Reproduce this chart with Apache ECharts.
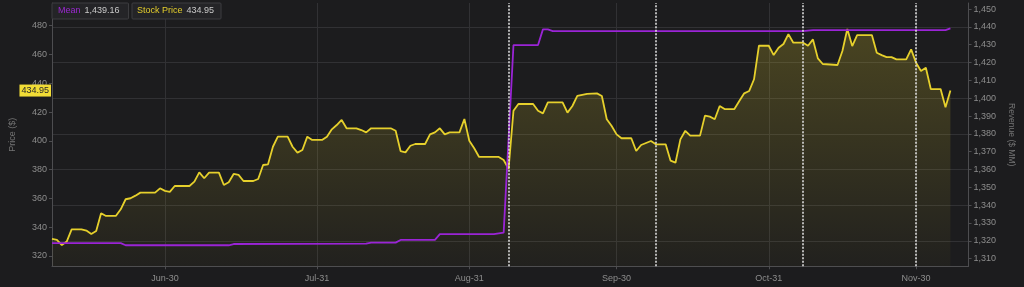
<!DOCTYPE html>
<html><head><meta charset="utf-8">
<script src="https://cdn.jsdelivr.net/npm/echarts@6/dist/echarts.min.js"></script>
<style>html,body{margin:0;padding:0;background:#1c1c1e}#c{width:1024px;height:287px}</style>
</head><body><div id="c"></div><script>
const priceDates = ['2023-06-07','2023-06-08','2023-06-09','2023-06-10','2023-06-11','2023-06-13','2023-06-14','2023-06-15','2023-06-16','2023-06-17','2023-06-18','2023-06-20','2023-06-21','2023-06-22','2023-06-23','2023-06-24','2023-06-25','2023-06-28','2023-06-29','2023-06-30',
'2023-07-01','2023-07-02','2023-07-05','2023-07-06','2023-07-07','2023-07-08','2023-07-09','2023-07-11','2023-07-12','2023-07-13','2023-07-14','2023-07-15','2023-07-16','2023-07-18','2023-07-19','2023-07-20','2023-07-21','2023-07-22','2023-07-23','2023-07-25','2023-07-26','2023-07-27','2023-07-28','2023-07-29','2023-07-30',
'2023-08-01','2023-08-02','2023-08-03','2023-08-04','2023-08-05','2023-08-06','2023-08-08','2023-08-09','2023-08-10','2023-08-11','2023-08-15','2023-08-16','2023-08-17','2023-08-18','2023-08-19','2023-08-20','2023-08-22','2023-08-23','2023-08-24','2023-08-25','2023-08-26','2023-08-27','2023-08-29','2023-08-30','2023-08-31',
'2023-09-01','2023-09-02','2023-09-06','2023-09-07','2023-09-08','2023-09-09','2023-09-10','2023-09-13','2023-09-14','2023-09-15','2023-09-16','2023-09-19','2023-09-20','2023-09-21','2023-09-22','2023-09-24','2023-09-26','2023-09-27','2023-09-28','2023-09-29','2023-09-30',
'2023-10-01','2023-10-03','2023-10-04','2023-10-05','2023-10-07','2023-10-08','2023-10-10','2023-10-11','2023-10-12','2023-10-13','2023-10-14','2023-10-15','2023-10-17','2023-10-18','2023-10-19','2023-10-20','2023-10-21','2023-10-22','2023-10-24','2023-10-25','2023-10-26','2023-10-27','2023-10-28','2023-10-29','2023-10-31',
'2023-11-01','2023-11-02','2023-11-03','2023-11-04','2023-11-05','2023-11-07','2023-11-08','2023-11-09','2023-11-10','2023-11-11','2023-11-14','2023-11-15','2023-11-16','2023-11-17','2023-11-18','2023-11-21','2023-11-22','2023-11-23','2023-11-24','2023-11-25','2023-11-26','2023-11-28','2023-11-29','2023-11-30',
'2023-12-01','2023-12-02','2023-12-03','2023-12-05','2023-12-06','2023-12-07'];
const priceValues = [331.8,331.1,327.6,330,338.5,338.5,337.6,335.3,337.4,349.7,347.8,347.8,352.4,359.4,360.1,361.9,364,364,367,365.2,
364.5,368.6,368.6,371.6,378.1,374,377.9,377.9,369.3,371.2,377,376.3,372.1,372.1,373.5,383.2,383.7,395.9,402.9,402.9,395.9,391.8,393.6,402.9,400.6,
400.6,402.9,408,411,414.5,408.7,408.7,407.5,405.9,408.7,408.7,407,392.9,392,396.6,397.8,397.8,404.5,405.9,408.7,404.5,405.9,405.9,415.2,400.1,
394.8,388.8,388.8,386.7,380.5,420.9,425.6,425.6,420.9,419.1,426.8,426.8,419.6,424.2,431.2,432.6,433,431.2,415,410.3,404.5,
401.8,401.8,392.9,397.1,399.9,397.6,397.6,386.2,384.8,401,407,403.6,403.6,417.5,416.8,415,424.2,422.1,422.1,427.7,433,434.6,442.8,466.1,466.1,
459.6,464.7,467.3,474.2,468.2,468.2,466.1,470.5,457.3,453.4,452.7,462.4,477.7,465.9,473.5,473.5,461.2,459.6,458.2,458.2,456.6,456.6,463.6,454.3,
448.5,450.8,436,436,423.3,434.95];
const meanDates = ['2023-06-07','2023-06-21','2023-06-22','2023-07-13','2023-07-14','2023-08-10','2023-08-11','2023-08-16','2023-08-17','2023-08-24','2023-08-25','2023-09-05','2023-09-07','2023-09-09','2023-09-14','2023-09-15','2023-09-16','2023-09-17','2023-11-07','2023-11-09','2023-12-06','2023-12-07'];
const meanValues = [1318.7,1318.7,1317.5,1317.5,1318.2,1318.4,1319,1319,1320.5,1320.5,1323.7,1323.7,1324.6,1429.8,1429.8,1438.6,1438.6,1437.6,1437.6,1438.2,1438.2,1439.16];
const xTickDates = ['2023-06-30','2023-07-31','2023-08-31','2023-09-30','2023-10-31','2023-11-30'];
const eventDates = ['2023-09-08','2023-10-08','2023-11-07','2023-11-30'];
const priceTicks = [320,340,360,380,400,420,440,460,480];
const revenueTicks = [1310,1320,1330,1340,1350,1360,1370,1380,1390,1400,1410,1420,1430,1440,1450];
const revenueGridValues = [1320,1340,1360,1380,1400,1420,1440];

const MONTHS = ['Jan','Feb','Mar','Apr','May','Jun','Jul','Aug','Sep','Oct','Nov','Dec'];
const ts = s => { const p = s.split('-').map(Number); return Date.UTC(p[0], p[1]-1, p[2]); };
const DAY = 86400000;
const fmtNum = (v, d) => v.toLocaleString('en-US', {minimumFractionDigits: d, maximumFractionDigits: d});
const lastPrice = priceValues[priceValues.length-1];
const lastMean = meanValues[meanValues.length-1];

const FONT = 'Liberation Sans, Arial, sans-serif';
const labelColor = '#8d8d8d';
const axisColor = '#4d4d50';
const gridColor = '#313134';

const chart = echarts.init(document.getElementById('c'));
const legendCommon = {
  orient: 'horizontal', top: 3, itemWidth: 0, itemHeight: 10, icon: 'rect',
  backgroundColor: '#242427', borderColor: '#3d3d40', borderWidth: 1, borderRadius: 1,
  selectedMode: false
};
chart.setOption({
  backgroundColor: '#1c1c1e',
  animation: false,
  grid: {left: 52, right: 54.5, top: 3, bottom: 20.7, containLabel: false},
  legend: [
    Object.assign({}, legendCommon, {
      data: ['Mean'], left: 52, padding: [3, 9, 3, 1],
      formatter: n => '{n|' + n + '}{v|' + fmtNum(lastMean, 2) + '}',
      textStyle: {fontSize: 9, fontFamily: FONT, rich: {
        n: {color: '#9a28d0', fontSize: 9, fontFamily: FONT},
        v: {color: '#c9c9c9', fontSize: 9, fontFamily: FONT, padding: [0,0,0,4]}}}
    }),
    Object.assign({}, legendCommon, {
      data: ['Stock Price'], left: 132, padding: [3, 7, 3, 0],
      formatter: n => '{n|' + n + '}{v|' + fmtNum(lastPrice, 2) + '}',
      textStyle: {fontSize: 9, fontFamily: FONT, rich: {
        n: {color: '#e3cd2c', fontSize: 9, fontFamily: FONT},
        v: {color: '#c9c9c9', fontSize: 9, fontFamily: FONT, padding: [0,0,0,4]}}}
    })
  ],
  xAxis: {
    type: 'value',
    min: ts(priceDates[0]),
    max: ts('2023-06-30') + 163.7 * DAY,
    axisLine: {show: true, lineStyle: {color: axisColor}},
    axisTick: {show: true, length: 3, lineStyle: {color: axisColor}, customValues: xTickDates.map(ts)},
    axisLabel: {color: labelColor, fontSize: 9, fontFamily: FONT, margin: 8, customValues: xTickDates.map(ts),
      formatter: v => { const d = new Date(v); return MONTHS[d.getUTCMonth()] + '-' + d.getUTCDate(); }},
    splitLine: {show: true, lineStyle: {color: gridColor}}
  },
  yAxis: [
    {
      type: 'value', position: 'left', min: 312.8, max: 495.8,
      name: 'Price ($)', nameLocation: 'middle', nameGap: 35,
      nameTextStyle: {color: '#747474', fontSize: 9, fontFamily: FONT},
      axisLine: {show: true, lineStyle: {color: axisColor}},
      axisTick: {show: true, length: 3, lineStyle: {color: axisColor}, customValues: priceTicks},
      axisLabel: {color: labelColor, fontSize: 9, fontFamily: FONT, margin: 5, customValues: priceTicks},
      splitLine: {show: false}
    },
    {
      type: 'value', position: 'right', min: 1305.7, max: 1453.4,
      name: 'Revenue ($ MM)', nameLocation: 'middle', nameGap: 36, nameRotate: -90,
      nameTextStyle: {color: '#747474', fontSize: 8.5, fontFamily: FONT},
      axisLine: {show: true, lineStyle: {color: axisColor}},
      axisTick: {show: true, length: 3, lineStyle: {color: axisColor}, customValues: revenueTicks},
      axisLabel: {color: labelColor, fontSize: 9, fontFamily: FONT, margin: 5, customValues: revenueTicks,
        formatter: v => fmtNum(v, 0)},
      splitLine: {show: false}
    },
    {
      type: 'value', position: 'right', min: 1305.7, max: 1453.4,
      axisLine: {show: false}, axisLabel: {show: false},
      axisTick: {show: false, customValues: revenueGridValues},
      splitLine: {show: true, lineStyle: {color: gridColor}}
    }
  ],
  series: [
    {
      name: 'Stock Price', type: 'line', yAxisIndex: 0, symbol: 'none',
      data: priceDates.map((d, i) => [ts(d), priceValues[i]]),
      lineStyle: {color: '#e6d02c', width: 1.8},
      itemStyle: {color: '#e6d02c'},
      areaStyle: {color: new echarts.graphic.LinearGradient(0, 0, 0, 1, [
        {offset: 0, color: 'rgba(230,208,44,0.32)'},
        {offset: 1, color: 'rgba(230,208,44,0.04)'}])},
      markLine: {
        silent: true, symbol: 'none', animation: false,
        data: [{yAxis: lastPrice, lineStyle: {color: 'rgba(0,0,0,0)', width: 0},
          label: {show: true, position: 'start', distance: 1, formatter: fmtNum(lastPrice, 2),
            backgroundColor: '#f1dc36', color: '#2a2a2a', fontSize: 9, fontFamily: FONT, padding: [2, 2, 1, 2]}}]
      }
    },
    {
      name: 'Mean', type: 'line', yAxisIndex: 1, symbol: 'none',
      data: meanDates.map((d, i) => [ts(d), meanValues[i]]),
      lineStyle: {color: '#9a24d6', width: 1.8},
      itemStyle: {color: '#9a24d6'},
      markLine: {
        silent: true, symbol: 'none', animation: false,
        label: {show: false},
        lineStyle: {color: '#dcdcdc', type: [2, 1.5], width: 1.6},
        data: eventDates.map(d => ({xAxis: ts(d)}))
      }
    }
  ]
});
</script></body></html>
